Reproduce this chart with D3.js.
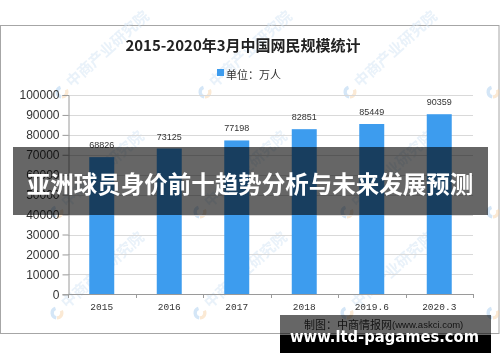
<!DOCTYPE html>
<html>
<head>
<meta charset="utf-8">
<script src="https://cdn.jsdelivr.net/npm/d3@7"></script>
<style>
  html, body { margin: 0; padding: 0; background: #fff; }
  svg { display: block; }
</style>
</head>
<body>
<svg id="chart" width="500" height="362"></svg>
<script>
const categories = ["2015", "2016", "2017", "2018", "2019.6", "2020.3"];
const values = [68826, 73125, 77198, 82851, 85449, 90359];
const yTicks = [0, 10000, 20000, 30000, 40000, 50000, 60000, 70000, 80000, 90000, 100000];
const titleText = "2015-2020年3月中国网民规模统计";
const legendText = "单位：万人";
const sourceText = "制图：中商情报网";
const sourceUrl = "(www.askci.com)";
const headline = "亚洲球员身价前十趋势分析与未来发展预测";
const siteText = "www.ltd-pagames.com";
const watermarkText = "中商产业研究院";

const svg = d3.select("#chart");
const plot = { left: 68, right: 473, top: 95, bottom: 294.3 };

const x = d3.scaleBand().domain(categories).range([plot.left, plot.right])
  .paddingInner(0.63).paddingOuter(0.315);
const y = d3.scaleLinear().domain([0, 100000]).range([plot.bottom, plot.top]);

// chart frame
svg.append("rect").attr("x", 0.5).attr("y", 25.5).attr("width", 498.5).attr("height", 308)
  .attr("fill", "#fff").attr("stroke", "#a6a6a6").attr("stroke-width", 1);

// watermarks (logo + rotated text)
const wm = svg.append("g").attr("opacity", 0.5);
const anchors = [
  [62, 92, true], [205, 92, true], [350, 92, true], [493, 92, false],
  [57, 212, true], [200, 212, true], [347, 212, true], [493, 212, false],
  [57, 313, true], [200, 313, true], [347, 313, true], [493, 313, false]
];
anchors.forEach(([ax, ay, withText]) => {
  const g = wm.append("g").attr("transform", `translate(${ax},${ay})`);
  const arcB = d3.arc().innerRadius(3.2).outerRadius(6.5).startAngle(Math.PI * 1.05).endAngle(Math.PI * 1.9);
  const arcO = d3.arc().innerRadius(3.2).outerRadius(6.5).startAngle(Math.PI * 0.35).endAngle(Math.PI * 1.0);
  g.append("path").attr("d", arcB()).attr("fill", "#a9cdee");
  g.append("path").attr("d", arcO()).attr("fill", "#f6d3a8");
  if (withText) {
    g.append("text").attr("transform", "translate(10,-4) rotate(-42)")
      .attr("font-family", "Noto Sans CJK SC").attr("font-size", 15).attr("font-weight", 700)
      .attr("fill", "#d3e4f4").text(watermarkText);
  }
});

// gridlines
svg.append("g").selectAll("line").data(yTicks.slice(1)).join("line")
  .attr("x1", plot.left).attr("x2", plot.right)
  .attr("y1", d => Math.round(y(d)) + 0.5).attr("y2", d => Math.round(y(d)) + 0.5)
  .attr("stroke", "#d9d9d9").attr("stroke-width", 1);

// y axis
const yAxis = svg.append("g").attr("transform", `translate(${plot.left + 0.5},0)`)
  .call(d3.axisLeft(y).tickValues(yTicks).tickSize(6).tickPadding(3).tickFormat(d3.format("d")));
yAxis.select(".domain").attr("stroke", "#9a9a9a");
yAxis.selectAll(".tick line").attr("stroke", "#9a9a9a");
yAxis.selectAll(".tick text").attr("font-family", "Liberation Sans, Arial, sans-serif")
  .attr("font-size", 12).attr("fill", "#333");

// bars
svg.append("g").selectAll("rect").data(values).join("rect")
  .attr("x", (d, i) => x(categories[i])).attr("width", x.bandwidth())
  .attr("y", d => y(d)).attr("height", d => y(0) - y(d))
  .attr("fill", "#3d9cee");

// value labels
svg.append("g").selectAll("text").data(values).join("text")
  .attr("x", (d, i) => x(categories[i]) + x.bandwidth() / 2)
  .attr("y", d => y(d) - 9)
  .attr("text-anchor", "middle").attr("font-family", "Liberation Sans, Arial, sans-serif")
  .attr("font-size", 9).attr("fill", "#333").text(d => d);

// x axis
const boundaries = d3.range(categories.length + 1).map(i => plot.left + i * x.step());
const xg = svg.append("g");
xg.append("line").attr("x1", plot.left).attr("x2", plot.right)
  .attr("y1", Math.round(plot.bottom) + 0.5).attr("y2", Math.round(plot.bottom) + 0.5)
  .attr("stroke", "#9a9a9a");
xg.selectAll("line.t").data(boundaries).join("line").attr("class", "t")
  .attr("x1", d => Math.round(d) + 0.5).attr("x2", d => Math.round(d) + 0.5)
  .attr("y1", Math.round(plot.bottom)).attr("y2", Math.round(plot.bottom) + 4)
  .attr("stroke", "#9a9a9a");
xg.selectAll("text").data(categories).join("text")
  .attr("x", d => x(d) + x.bandwidth() / 2).attr("y", 310)
  .attr("text-anchor", "middle").attr("font-family", "Liberation Mono, monospace")
  .attr("font-size", 9.5).attr("fill", "#333").text(d => d);

// title
svg.append("text").attr("x", 243).attr("y", 51).attr("text-anchor", "middle")
  .attr("font-family", "Noto Sans CJK SC").attr("font-weight", 700).attr("font-size", 15)
  .attr("fill", "#222").text(titleText);

// legend
svg.append("rect").attr("x", 217).attr("y", 69).attr("width", 7).attr("height", 7).attr("fill", "#3d9cee");
svg.append("text").attr("x", 226).attr("y", 74).attr("dominant-baseline", "central")
  .attr("font-family", "Noto Sans CJK SC").attr("font-size", 11).attr("fill", "#333").text(legendText);

// source
const src = svg.append("text").attr("x", 304).attr("y", 324).attr("dominant-baseline", "central")
  .attr("fill", "#333");
src.append("tspan").attr("font-family", "Noto Sans CJK SC").attr("font-size", 11).text(sourceText);
src.append("tspan").attr("font-family", "Liberation Sans, Arial, sans-serif").attr("font-size", 9.5).text(sourceUrl);

// headline overlay
svg.append("rect").attr("x", 13).attr("y", 147).attr("width", 475).attr("height", 68)
  .attr("fill", "#000").attr("opacity", 0.6);
svg.append("text").attr("x", 250).attr("y", 183).attr("text-anchor", "middle")
  .attr("dominant-baseline", "central").attr("font-family", "Noto Sans CJK SC")
  .attr("font-weight", 700).attr("font-size", 23.5).attr("fill", "#fff").text(headline);

// site band
svg.append("rect").attr("x", 280).attr("y", 315).attr("width", 211).attr("height", 20)
  .attr("fill", "#000").attr("opacity", 0.6);
svg.append("rect").attr("x", 280).attr("y", 335).attr("width", 211).attr("height", 18)
  .attr("fill", "#000");
svg.append("text").attr("x", 290).attr("y", 337).attr("dominant-baseline", "central")
  .attr("font-family", "DejaVu Sans").attr("font-weight", 700).attr("font-size", 15)
  .attr("textLength", 189).attr("lengthAdjust", "spacingAndGlyphs")
  .attr("fill", "#fff").text(siteText);
</script>
</body>
</html>
